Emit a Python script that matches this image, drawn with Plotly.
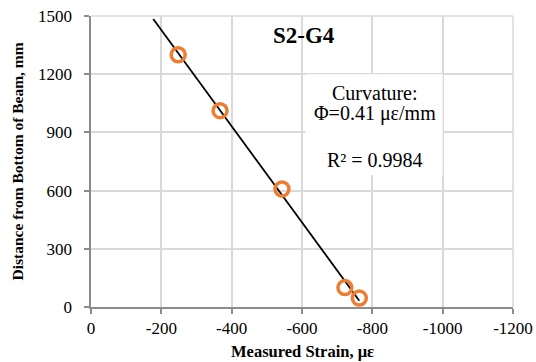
import numpy as np
import plotly.graph_objects as go

# Data
strain = [-248, -367, -543, -722, -763]          # measured strain, microstrain
height = [1300, 1012, 608, 100, 46]               # distance from bottom of beam, mm
trend_x_ends = [-177, -763]                       # trendline extent (with backward forecast)

x_ticks = [0, -200, -400, -600, -800, -1000, -1200]
y_ticks = [0, 300, 600, 900, 1200, 1500]

title_text = "<b>S2-G4</b>"
curv_line1 = "Curvature:"
curv_line2 = "Φ=0.41 με/mm"
r2_text = "R² = 0.9984"

# linear trendline (height as function of strain), like Excel
b, a = np.polyfit(strain, height, 1)
tx = np.array(trend_x_ends, dtype=float)
ty = a + b * tx

FONT = "Liberation Serif"
GRID = "#d9d9d9"
AXIS = "#8c8c8c"
ORANGE = "#ED7D31"
TICKFONT = dict(family=FONT, size=17, color="black")

fig = go.Figure()
fig.add_trace(go.Scatter(x=tx, y=ty, mode="lines",
                         line=dict(color="black", width=1.8),
                         showlegend=False, hoverinfo="skip"))
fig.add_trace(go.Scatter(x=strain, y=height, mode="markers",
                         marker=dict(symbol="circle-open", size=14,
                                     color=ORANGE, line=dict(width=3.5, color=ORANGE)),
                         showlegend=False))

fig.update_layout(
    width=536, height=362,
    margin=dict(l=91, r=23, t=16, b=55),
    paper_bgcolor="white", plot_bgcolor="white",
    font=dict(family=FONT, size=17, color="black"),
    xaxis=dict(range=[0, -1200], tickvals=x_ticks, ticktext=[str(v) for v in x_ticks],
               tickfont=TICKFONT, automargin=False,
               showgrid=True, gridcolor=GRID, gridwidth=1.5,
               zeroline=False, showline=True, linecolor=AXIS, linewidth=2,
               ticks="outside", ticklen=5, tickcolor=AXIS, tickwidth=1.5,
               mirror=False),
    yaxis=dict(range=[0, 1500], tickvals=y_ticks,
               ticktext=[str(v) + "\u00a0\u00a0" for v in y_ticks],
               tickfont=TICKFONT, automargin=False,
               showgrid=True, gridcolor=GRID, gridwidth=1.5,
               zeroline=False, showline=True, linecolor=AXIS, linewidth=2,
               ticks="outside", ticklen=5, tickcolor=AXIS, tickwidth=1.5),
)

# axis titles placed as annotations
fig.add_annotation(x=0.5, y=-45 / 291, xref="paper", yref="paper",
                   text="<b>Measured Strain, με</b>", showarrow=False,
                   font=dict(family=FONT, size=16.5), yanchor="middle")
fig.add_annotation(x=-(91 - 17) / 422, y=0.5, xref="paper", yref="paper",
                   text="<b>Distance from Bottom of Beam, mm</b>", showarrow=False,
                   textangle=-90, font=dict(family=FONT, size=15.5), xanchor="center")

# top and right frame lines (light gray like gridlines)
fig.add_shape(type="line", xref="paper", yref="paper", x0=0, x1=1, y0=1, y1=1,
              line=dict(color=GRID, width=1.5), layer="below")
fig.add_shape(type="line", xref="paper", yref="paper", x0=1, x1=1, y0=0, y1=1,
              line=dict(color=GRID, width=1.5), layer="below")

# white box behind the curvature / R² labels
fig.add_shape(type="rect", xref="x", yref="y", x0=-610, x1=-1000, y0=680, y1=1200,
              fillcolor="white", line=dict(width=0), layer="above")

fig.add_annotation(x=-607, y=1400, xref="x", yref="y", text=title_text,
                   showarrow=False, font=dict(family=FONT, size=23))
fig.add_annotation(x=-808, y=1105, xref="x", yref="y", text=curv_line1,
                   showarrow=False, font=dict(family=FONT, size=20))
fig.add_annotation(x=-808, y=998, xref="x", yref="y", text=curv_line2,
                   showarrow=False, font=dict(family=FONT, size=20))
fig.add_annotation(x=-808, y=760, xref="x", yref="y", text=r2_text,
                   showarrow=False, font=dict(family=FONT, size=20))

fig.write_html("out.html")
